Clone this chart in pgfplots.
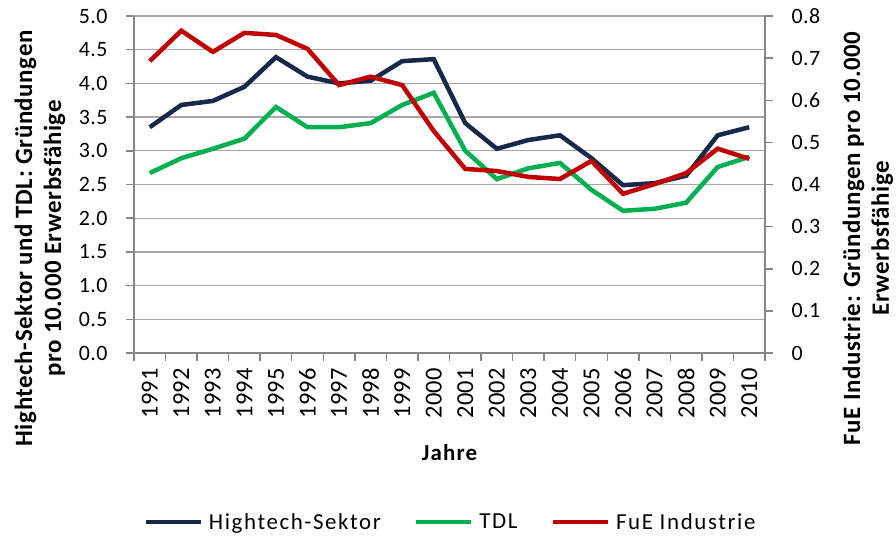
\documentclass[border=0pt]{standalone}
\usepackage{fontspec}
\setmainfont{Carlito}
\newfontfamily\legfont[LetterSpace=7]{Carlito}
\newfontfamily\ytfont[LetterSpace=2]{Carlito}
\newfontfamily\xtfont[LetterSpace=0]{Carlito}
\newfontfamily\xlabfont[LetterSpace=5]{Carlito}
\newfontfamily\ylabfont[LetterSpace=2.4]{Carlito}
\usepackage{pgfplots}
\usepackage{pgfplotstable}
\pgfplotsset{compat=1.18}
\definecolor{navy}{HTML}{16294A}
\definecolor{tdlgreen}{HTML}{00B050}
\definecolor{fuered}{HTML}{C00000}
\definecolor{axgray}{HTML}{868686}
\definecolor{gridgray}{HTML}{A6A6A6}

\pgfplotstableread{
idx year hightech tdl fue
0  1991 3.35 2.67 0.693
1  1992 3.68 2.89 0.765
2  1993 3.74 3.03 0.715
3  1994 3.95 3.18 0.760
4  1995 4.39 3.65 0.755
5  1996 4.10 3.35 0.722
6  1997 4.00 3.35 0.636
7  1998 4.04 3.41 0.656
8  1999 4.33 3.68 0.636
9  2000 4.36 3.86 0.527
10 2001 3.41 3.00 0.437
11 2002 3.03 2.58 0.432
12 2003 3.16 2.74 0.418
13 2004 3.23 2.82 0.413
14 2005 2.89 2.42 0.456
15 2006 2.49 2.11 0.378
16 2007 2.52 2.14 0.401
17 2008 2.63 2.23 0.427
18 2009 3.23 2.76 0.485
19 2010 3.35 2.91 0.461
}\datatable

\begin{document}
\begin{tikzpicture}
\pgfplotsset{
  every axis/.append style={
    scale only axis, width=631bp, height=337bp,
    xmin=-0.5, xmax=19.5,
    /pgf/number format/assume math mode=true,
    yticklabel style={font=\ytfont\fontsize{22}{26}\selectfont, color=black},
    label style={font=\ylabfont\bfseries\fontsize{25}{29}\selectfont, align=center},
    tick align=outside,
    major tick length=8bp,
    minor tick length=8bp,
    tick style={draw=axgray, line width=1.5bp},
    axis line style={draw=axgray, line width=1.5bp},
    yticklabel shift=15bp,
  },
}
\begin{axis}[
  at={(0,0)}, anchor=south west,
  ymin=0, ymax=5,
  axis x line*=bottom, axis y line*=left,
  xtick={0,...,19},
  xticklabels={1991,1992,1993,1994,1995,1996,1997,1998,1999,2000,2001,2002,2003,2004,2005,2006,2007,2008,2009,2010},
  major x tick style={draw=none},
  minor xtick={-0.5,0.5,...,19.5},
  xticklabel style={rotate=90, anchor=east, font=\xtfont\fontsize{24.5}{28}\selectfont, color=black},
  xticklabel shift=4bp,
  ytick={0,0.5,...,5},
  yticklabel style={/pgf/number format/.cd, fixed, fixed zerofill, precision=1},
  ymajorgrids,
  major grid style={draw=gridgray, line width=1.3bp},
  xlabel={Jahre},
  xlabel style={at={(axis description cs:0.5,-0.294)}, anchor=center, font=\xlabfont\bfseries\fontsize{23}{27}\selectfont},
  ylabel={Hightech-Sektor und TDL: Gründungen\\pro 10.000 Erwerbsfähige},
  ylabel style={at={(axis description cs:-0.149,0.34)}, anchor=center},
]
\addplot[navy, line width=4.5bp] table[x=idx, y=hightech] {\datatable};
\addplot[tdlgreen, line width=4.5bp] table[x=idx, y=tdl] {\datatable};
\end{axis}
\begin{axis}[
  at={(0,0)}, anchor=south west,
  ymin=0, ymax=0.8,
  axis x line=none, axis y line*=right,
  ytick={0,0.1,0.2,0.3,0.4,0.5,0.6,0.7,0.8},
  yticklabels={0,0.1,0.2,0.3,0.4,0.5,0.6,0.7,0.8},
  ylabel={FuE Industrie: Gründungen pro 10.000\\Erwerbsfähige},
  ylabel style={at={(axis description cs:1.163,0.34)}, anchor=center},
  legend style={at={(axis description cs:0.5,-0.5015)}, anchor=center, draw=none,
    legend columns=3, font=\legfont\fontsize{23}{27}\selectfont,
    /tikz/every odd column/.append style={column sep=6bp},
    /tikz/every even column/.append style={column sep=33bp},
    nodes={inner sep=0pt}},
  legend image code/.code={\draw[#1] (0bp,0bp) -- (55bp,0bp);},
]
\addlegendimage{navy, line width=4.5bp}
\addlegendentry{Hightech-Sektor}
\addlegendimage{tdlgreen, line width=4.5bp}
\addlegendentry{TDL}
\addplot[fuered, line width=4.5bp] table[x=idx, y=fue] {\datatable};
\addlegendentry{FuE Industrie}
\end{axis}
\pgfresetboundingbox
\path[use as bounding box] (-134bp,-184bp) rectangle (762bp,353bp);
\end{tikzpicture}
\end{document}
